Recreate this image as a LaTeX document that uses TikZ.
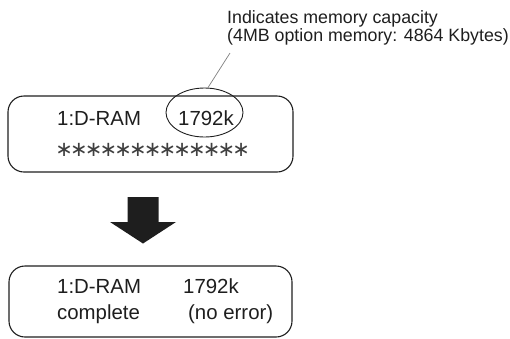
\documentclass[tikz,border=0pt]{standalone}
\usepackage{fontspec}
\setmainfont{Liberation Sans}
\newfontfamily\symfont{DejaVu Sans}
\usetikzlibrary{shapes.geometric}
\definecolor{ink}{HTML}{1E1E1E}
\definecolor{lead}{HTML}{808080}
\begin{document}
\begin{tikzpicture}[x=1pt,y=-1pt,
  panel/.style={draw=ink,line width=1.1pt,rounded corners=16pt},
  disp/.style={anchor=base west,inner sep=0pt,text=ink,font=\fontsize{20.4}{22}\selectfont},
  note/.style={anchor=base west,inner sep=0pt,text=ink,align=left,font=\fontsize{17.8}{16}\selectfont},
  ringmark/.style={draw=ink,line width=0.9pt,ellipse,minimum width=77pt,minimum height=49pt,inner sep=0pt}]
\useasboundingbox (0,0) rectangle (510,338);
% panels
\draw[panel] (8,96) rectangle (293,172);
\draw[panel] (9,266) rectangle (292,337);
% annotation
\node[note] (nt) at (227,41.5) {Indicates memory capacity\\(4MB option memory: 4864 Kbytes)};
% box 1 text
\node[disp] (r1) at (57,125) {1:D-RAM};
\node[disp] (c1) at (178,125) {1792k};
\node[anchor=west,inner sep=0pt,text=ink!85,font=\symfont\fontsize{21}{21}\selectfont] (st) at (56.5,149.5)
  {\foreach \i in {1,...,13}{\makebox[14.75pt]{∗}}};
% ellipse and leader
\node[ringmark] (el) at (204.5,112.5) {};
\coordinate (lt) at (230,53);
\coordinate (lb) at ([xshift=3.5pt]el.north);
\draw[lead,line width=0.7pt] (lb) -- (lt);
% arrow
\path[fill=ink] (127.5,197) -- (158.5,197) -- (158.5,222) -- (176,222) -- (143,243.5) -- (110,222) -- (127.5,222) -- cycle;
% box 2 text
\node[disp] (r2) at (57,293) {1:D-RAM};
\node[disp] (c2) at (183,293) {1792k};
\node[disp] (s2) at (57,319) {complete};
\node[disp] (e2) at (188,319) {(no error)};
\end{tikzpicture}
\end{document}
